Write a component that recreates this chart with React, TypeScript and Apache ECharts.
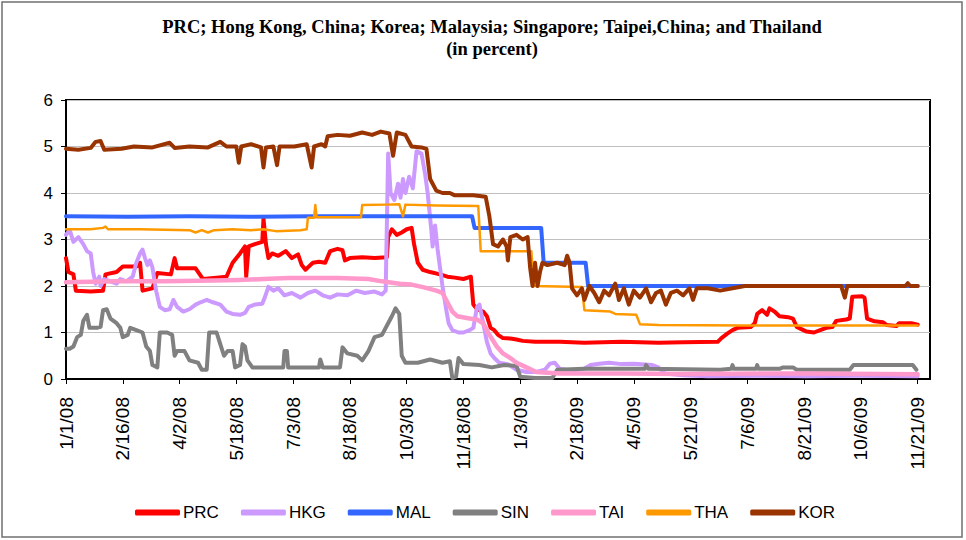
import React, { useEffect, useRef } from "react";
import * as echarts from "echarts";

// x values are days counted from 1/1/08
const tickLabels = [
  "1/1/08", "2/16/08", "4/2/08", "5/18/08", "7/3/08", "8/18/08", "10/3/08", "11/18/08",
  "1/3/09", "2/18/09", "4/5/09", "5/21/09", "7/6/09", "8/21/09", "10/6/09", "11/21/09",
];
const tickStepDays = 46;

const seriesNames = ["PRC", "HKG", "MAL", "SIN", "TAI", "THA", "KOR"];

const PRC: [number, number][] = [
  [0, 2.6], [2, 2.3], [6, 2.25], [8, 1.9], [20, 1.88], [30, 1.9], [32, 2.25], [41, 2.3], [46, 2.42],
  [57, 2.42], [60, 2.5], [62, 1.9], [70, 1.95], [74, 2.28], [85, 2.25], [88, 2.6], [90, 2.38],
  [105, 2.38], [111, 2.15], [122, 2.18], [130, 2.2], [135, 2.5], [141, 2.7], [145, 2.85], [146, 2.2],
  [148, 2.85], [153, 2.9], [159, 2.95], [160, 3.45], [162, 2.9], [164, 2.6], [167, 2.7], [172, 2.65],
  [178, 2.75], [183, 2.6], [188, 2.68], [191, 2.45], [194, 2.35], [196, 2.4], [200, 2.5], [205, 2.52],
  [210, 2.5], [214, 2.75], [220, 2.8], [224, 2.77], [226, 2.55], [230, 2.6], [240, 2.62], [250, 2.6],
  [260, 2.62], [261, 3.05], [264, 3.22], [268, 3.1], [272, 3.15], [276, 3.22], [280, 3.25],
  [282, 2.9], [285, 2.5], [289, 2.35], [295, 2.3], [303, 2.25], [309, 2.2], [315, 2.18], [322, 2.15],
  [328, 2.2], [330, 1.6], [333, 1.5], [338, 1.45], [341, 1.35], [344, 1.1], [347, 1.05], [350, 0.95],
  [354, 0.88], [360, 0.87], [365, 0.85], [370, 0.82], [380, 0.8], [400, 0.8], [420, 0.78], [450, 0.8],
  [480, 0.78], [500, 0.79], [528, 0.8], [531, 0.88], [536, 0.98], [540, 1.05], [544, 1.1], [555, 1.12],
  [558, 1.2], [560, 1.4], [564, 1.48], [568, 1.38], [570, 1.52], [574, 1.45], [578, 1.35], [585, 1.33],
  [589, 1.3], [592, 1.12], [600, 1.02], [606, 1.0], [611, 1.05], [616, 1.1], [621, 1.12], [624, 1.25],
  [632, 1.28], [635, 1.3], [637, 1.77], [645, 1.78], [647, 1.75], [649, 1.3], [655, 1.24], [662, 1.22],
  [665, 1.16], [673, 1.14], [675, 1.2], [685, 1.2], [690, 1.17],
];

const HKG: [number, number][] = [
  [0, 3.1], [3, 3.2], [6, 2.95], [10, 3.05], [14, 2.9], [17, 2.75], [20, 2.7], [22, 2.3], [24, 2.05],
  [27, 2.2], [28, 2.0], [31, 2.15], [36, 2.1], [41, 2.05], [44, 2.15], [49, 2.1], [54, 2.2], [57, 2.5],
  [60, 2.7], [62, 2.78], [64, 2.6], [66, 2.45], [68, 2.55], [70, 2.4], [73, 1.9], [76, 1.55], [80, 1.48],
  [84, 1.5], [87, 1.7], [90, 1.55], [95, 1.45], [100, 1.5], [105, 1.6], [109, 1.65], [114, 1.7],
  [119, 1.65], [125, 1.6], [130, 1.45], [135, 1.4], [141, 1.38], [145, 1.42], [148, 1.55], [153, 1.6],
  [159, 1.62], [161, 1.75], [164, 1.98], [168, 1.9], [172, 1.95], [177, 1.8], [183, 1.85], [190, 1.75],
  [196, 1.85], [202, 1.9], [208, 1.8], [214, 1.75], [220, 1.82], [228, 1.8], [235, 1.9], [242, 1.85],
  [250, 1.88], [256, 1.82], [259, 1.9], [261, 4.85], [263, 4.0], [266, 3.85], [269, 4.2], [271, 3.9],
  [273, 4.3], [275, 4.0], [278, 4.35], [281, 4.1], [284, 4.9], [288, 4.85], [291, 4.4], [293, 4.0],
  [296, 3.2], [297, 2.85], [299, 3.3], [301, 2.8], [303, 2.4], [305, 2.0], [308, 1.5], [310, 1.2],
  [313, 1.05], [318, 1.0], [322, 1.0], [327, 1.05], [330, 1.1], [333, 1.55], [335, 1.6], [338, 1.2],
  [341, 0.8], [344, 0.55], [347, 0.45], [351, 0.35], [358, 0.32], [365, 0.2], [373, 0.15], [381, 0.15],
  [388, 0.2], [392, 0.33], [396, 0.35], [400, 0.22], [410, 0.18], [420, 0.22], [425, 0.3], [432, 0.33],
  [440, 0.35], [450, 0.32], [460, 0.33], [475, 0.3], [480, 0.25], [485, 0.12], [500, 0.08], [520, 0.06],
  [560, 0.07], [600, 0.06], [640, 0.07], [690, 0.06],
];

const MAL: [number, number][] = [
  [0, 3.5], [50, 3.49], [100, 3.5], [150, 3.49], [200, 3.5], [250, 3.5], [329, 3.5], [331, 3.25],
  [385, 3.25], [387, 2.5], [421, 2.5], [423, 2.0], [690, 2.0],
];

const SIN: [number, number][] = [
  [0, 0.65], [3, 0.65], [6, 0.7], [9, 0.9], [12, 0.95], [14, 1.25], [17, 1.38], [19, 1.1], [25, 1.1],
  [28, 1.12], [30, 1.48], [33, 1.5], [36, 1.3], [41, 1.2], [44, 1.1], [46, 0.9], [50, 0.95], [52, 1.1],
  [57, 1.05], [62, 1.0], [65, 0.7], [68, 0.6], [70, 0.3], [74, 0.25], [76, 1.0], [82, 1.0], [86, 0.95],
  [88, 0.5], [90, 0.6], [96, 0.6], [100, 0.4], [107, 0.35], [110, 0.2], [114, 0.2], [116, 1.0],
  [122, 1.0], [125, 0.75], [128, 0.5], [131, 0.6], [135, 0.6], [137, 0.25], [141, 0.3], [143, 0.75],
  [145, 0.7], [147, 0.4], [151, 0.25], [176, 0.25], [177, 0.6], [179, 0.6], [180, 0.25], [205, 0.25],
  [206, 0.42], [208, 0.25], [222, 0.25], [224, 0.68], [228, 0.55], [236, 0.5], [240, 0.4], [245, 0.6],
  [250, 0.9], [256, 0.95], [261, 1.2], [264, 1.35], [267, 1.52], [270, 1.4], [272, 0.5], [275, 0.35],
  [285, 0.35], [295, 0.42], [305, 0.35], [311, 0.38], [313, 0.02], [316, 0.05], [318, 0.45], [322, 0.32],
  [335, 0.3], [345, 0.25], [355, 0.3], [365, 0.28], [368, 0.05], [380, 0.02], [394, 0.02], [398, 0.2],
  [420, 0.22], [450, 0.22], [469, 0.22], [470, 0.3], [472, 0.22], [530, 0.2], [539, 0.22], [540, 0.3],
  [541, 0.22], [559, 0.22], [560, 0.3], [561, 0.22], [578, 0.22], [581, 0.25], [589, 0.25], [592, 0.2],
  [635, 0.2], [638, 0.3], [686, 0.3], [689, 0.2],
];

const TAI: [number, number][] = [
  [0, 2.08], [40, 2.1], [80, 2.1], [120, 2.12], [140, 2.13], [160, 2.15], [180, 2.17], [220, 2.17],
  [245, 2.15], [256, 2.1], [270, 2.05], [280, 2.03], [290, 1.97], [300, 1.9], [305, 1.85], [309, 1.65],
  [313, 1.45], [317, 1.35], [327, 1.3], [333, 1.28], [338, 1.2], [343, 0.95], [349, 0.7], [354, 0.55],
  [360, 0.45], [365, 0.35], [373, 0.25], [381, 0.15], [400, 0.12], [450, 0.12], [500, 0.11],
  [600, 0.12], [690, 0.1],
];

const THA: [number, number][] = [
  [0, 3.22], [20, 3.22], [30, 3.25], [32, 3.28], [34, 3.22], [60, 3.22], [100, 3.2], [105, 3.15],
  [110, 3.2], [115, 3.15], [120, 3.2], [135, 3.22], [150, 3.2], [160, 3.22], [170, 3.18], [190, 3.2],
  [195, 3.22], [196, 3.47], [201, 3.47], [202, 3.74], [203, 3.48], [215, 3.48], [239, 3.48], [240, 3.74],
  [260, 3.75], [270, 3.76], [273, 3.5], [275, 3.75], [300, 3.73], [334, 3.72], [336, 2.75], [377, 2.75],
  [379, 2.0], [418, 1.98], [420, 1.48], [441, 1.45], [445, 1.4], [462, 1.38], [465, 1.18], [480, 1.16],
  [550, 1.15], [690, 1.15],
];

const KOR: [number, number][] = [
  [0, 4.95], [10, 4.93], [20, 4.97], [24, 5.1], [28, 5.12], [31, 4.93], [45, 4.95], [55, 5.0], [70, 4.98],
  [84, 5.08], [88, 4.97], [100, 5.0], [115, 4.98], [125, 5.1], [130, 5.0], [138, 5.0], [140, 4.65],
  [142, 5.0], [150, 5.05], [158, 4.98], [160, 4.55], [162, 4.98], [168, 5.0], [171, 4.6], [173, 5.0],
  [185, 5.0], [195, 5.05], [199, 4.55], [201, 5.0], [207, 5.05], [210, 5.0], [212, 5.22], [220, 5.25],
  [230, 5.23], [240, 5.3], [248, 5.25], [255, 5.32], [262, 5.28], [265, 4.8], [268, 5.3], [275, 5.25],
  [280, 5.0], [288, 4.98], [292, 4.95], [295, 4.3], [300, 4.05], [305, 4.0], [311, 4.0], [315, 3.95],
  [330, 3.95], [340, 3.92], [343, 3.5], [346, 2.9], [350, 2.85], [354, 3.0], [357, 2.85], [358, 2.55],
  [360, 3.05], [365, 3.1], [370, 3.0], [374, 3.05], [376, 2.4], [378, 2.0], [380, 2.5], [382, 2.0],
  [384, 2.3], [386, 2.5], [390, 2.45], [398, 2.5], [404, 2.45], [406, 2.65], [408, 2.5], [410, 1.95],
  [414, 1.8], [418, 1.95], [420, 1.7], [424, 2.0], [428, 1.85], [432, 1.65], [436, 1.9], [440, 1.8],
  [445, 2.05], [448, 1.7], [452, 1.95], [456, 1.6], [460, 1.9], [465, 1.75], [470, 1.95], [474, 1.65],
  [478, 1.85], [482, 1.9], [486, 1.6], [490, 1.85], [495, 1.9], [500, 1.8], [505, 1.95], [508, 1.7],
  [511, 1.95], [520, 1.95], [530, 1.9], [540, 1.95], [550, 2.0], [600, 2.0], [628, 2.0], [631, 1.75],
  [633, 2.0], [680, 2.0], [682, 2.06], [684, 2.0], [690, 2.0],
];

const seriesData = [PRC, HKG, MAL, SIN, TAI, THA, KOR];
const seriesColors = ["#ff0000", "#cc99ff", "#3366ff", "#808080", "#ff99cc", "#ff9900", "#993300"];
const seriesWidths = [4, 4, 4, 4, 4.5, 2.5, 4];

export default function App() {
  const ref = useRef<HTMLDivElement>(null);
  useEffect(() => {
    if (!ref.current) return;
    const chart = echarts.init(ref.current, undefined, { renderer: "svg" });
    chart.setOption({
      animation: false,
      backgroundColor: "#ffffff",
      title: {
        text: "PRC; Hong Kong, China; Korea; Malaysia; Singapore; Taipei,China; and Thailand\n(in percent)",
        left: 487,
        top: 11,
        textAlign: "center",
        textStyle: {
          fontFamily: "Liberation Serif",
          fontWeight: "bold",
          fontSize: 18.5,
          lineHeight: 22,
          color: "#000",
        },
      },
      graphic: [
        {
          type: "rect",
          shape: { x: 2, y: 2, width: 960, height: 535 },
          style: { fill: "none", stroke: "#707070", lineWidth: 1.5 },
          silent: true,
        },
      ],
      legend: {
        left: 135,
        top: 504,
        padding: 0,
        itemWidth: 45,
        itemHeight: 6,
        itemGap: 22,
        icon: "roundRect",
        data: seriesNames,
        textStyle: {
          fontFamily: "Arial, Liberation Sans",
          fontSize: 17,
          color: "#000",
          padding: [0, 0, 0, -2],
        },
      },
      grid: {
        left: 66,
        right: 36,
        top: 100,
        bottom: 161,
        show: true,
        borderColor: "#000",
        borderWidth: 2,
        backgroundColor: "transparent",
      },
      xAxis: {
        type: "value",
        min: 0,
        max: 700,
        interval: tickStepDays,
        axisLine: { show: true, onZero: false, lineStyle: { color: "#000", width: 2 } },
        axisTick: { show: true, length: 5, lineStyle: { color: "#000", width: 1 } },
        splitLine: { show: false },
        axisLabel: {
          rotate: 90,
          margin: 18,
          fontFamily: "Arial, Liberation Sans",
          fontSize: 19,
          color: "#000",
          showMaxLabel: false,
          formatter: (v: number) => {
            const i = Math.round(v / tickStepDays);
            return Math.abs(v - i * tickStepDays) < 0.01 && i < tickLabels.length ? tickLabels[i] : "";
          },
        },
      },
      yAxis: {
        type: "value",
        min: 0,
        max: 6,
        interval: 1,
        axisLine: { show: true, lineStyle: { color: "#000", width: 2 } },
        axisTick: { show: true, length: 5, lineStyle: { color: "#000", width: 1 } },
        splitLine: { show: true, lineStyle: { color: "#c0c0c0", width: 1 } },
        axisLabel: {
          margin: 13,
          fontFamily: "Arial, Liberation Sans",
          fontSize: 17,
          color: "#000",
        },
      },
      series: seriesNames.map((name, i) => ({
        name,
        type: "line",
        data: seriesData[i],
        symbol: "none",
        color: seriesColors[i],
        lineStyle: { color: seriesColors[i], width: seriesWidths[i], join: "round", cap: "round" },
        z: 2 + i,
      })),
    });
    return () => chart.dispose();
  }, []);
  return (
    <div
      ref={ref}
      style={{ position: "fixed", left: 0, top: 0, width: 966, height: 540, background: "#fff" }}
    />
  );
}
